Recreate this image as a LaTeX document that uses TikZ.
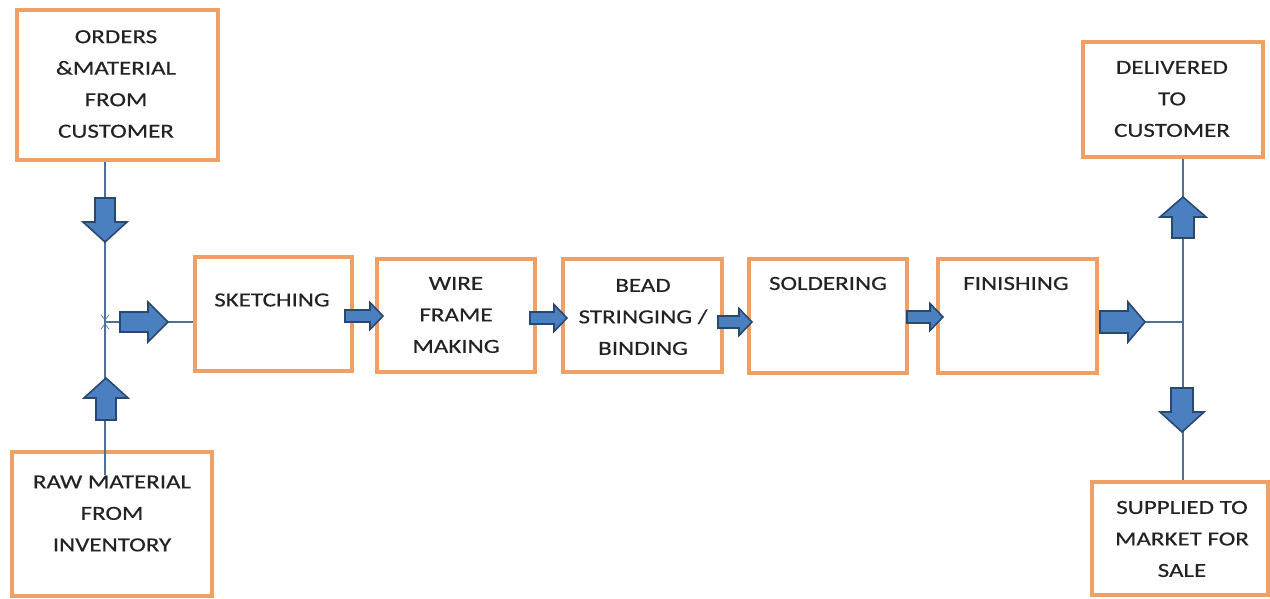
\documentclass[tikz,border=0pt]{standalone}
\usepackage{fontspec}
\newfontfamily\dfont[FakeStretch=1.25,FakeBold=0.4]{Carlito}
\usetikzlibrary{calc}
\definecolor{boxorange}{RGB}{240,160,100}
\definecolor{arrfill}{RGB}{75,128,192}
\definecolor{arrline}{RGB}{40,72,112}
\definecolor{linecol}{RGB}{80,110,150}
\definecolor{txt}{RGB}{35,35,35}
\tikzset{
 box/.style={draw=boxorange, line width=3.5pt, rectangle, inner sep=0pt},
 lbl/.style={font=\dfont\fontsize{20}{31.5}\selectfont, text=txt, align=center, inner sep=0pt},
 conn/.style={draw=linecol, line width=1.2pt},
 blk/.style={fill=arrfill, draw=arrline, line width=1.6pt, line join=miter},
 tick/.style={draw=linecol, line width=0.6pt},
}
% horizontal block arrow: x tail, x tip, y, shaft half, head half, head length
\newcommand\blkH[6]{%
 \pgfmathsetmacro\myhb{#2-((#2>#1)?1:-1)*#6}%
 \path[blk] (#1,{#3-#4}) -- (\myhb,{#3-#4}) -- (\myhb,{#3-#5}) -- (#2,#3) -- (\myhb,{#3+#5}) -- (\myhb,{#3+#4}) -- (#1,{#3+#4}) -- cycle;}
% vertical block arrow: y tail, y tip, x, shaft half, head half, head length
\newcommand\blkV[6]{%
 \pgfmathsetmacro\myhb{#2-((#2>#1)?1:-1)*#6}%
 \path[blk] ({#3-#4},#1) -- ({#3-#4},\myhb) -- ({#3-#5},\myhb) -- (#3,#2) -- ({#3+#5},\myhb) -- ({#3+#4},\myhb) -- ({#3+#4},#1) -- cycle;}
\begin{document}
\begin{tikzpicture}[x=1pt,y=-1pt]
\useasboundingbox (0,0) rectangle (1270,598);
% boxes
\node[box, minimum width=201pt, minimum height=150pt] (orders) at (117.5,85) {};
\node[box, minimum width=200pt, minimum height=144pt] (raw) at (112,524) {};
\node[box, minimum width=157pt, minimum height=114pt] (sketch) at (273.5,314) {};
\node[box, minimum width=158pt, minimum height=113pt] (wire) at (456,315.5) {};
\node[box, minimum width=159pt, minimum height=113pt] (bead) at (642.5,315.5) {};
\node[box, minimum width=158pt, minimum height=114pt] (solder) at (828,316) {};
\node[box, minimum width=159pt, minimum height=114pt] (finish) at (1017.5,316) {};
\node[box, minimum width=180pt, minimum height=115pt] (deliv) at (1173,99.5) {};
\node[box, minimum width=176pt, minimum height=113pt] (supp) at (1180,538.5) {};
% labels
\node[lbl] (ordersT) at (116,84) {ORDERS\\\&MATERIAL\\FROM\\CUSTOMER};
\node[lbl] (rawT) at (112,513.5) {RAW MATERIAL\\FROM\\INVENTORY};
\node[lbl] (sketchT) at (272,300) {SKETCHING};
\node[lbl] (wireT) at (456,315) {WIRE\\FRAME\\MAKING};
\node[lbl] (beadT) at (643,317) {BEAD\\STRINGING /\\BINDING};
\node[lbl] (solderT) at (828,283.5) {SOLDERING};
\node[lbl] (finishT) at (1016,283.5) {FINISHING};
\node[lbl] (delivT) at (1172,99) {DELIVERED\\TO\\CUSTOMER};
\node[lbl] (suppT) at (1182,539) {SUPPLIED TO\\MARKET FOR\\SALE};
% junctions
\coordinate (jL) at (105,322);
\coordinate (jR) at (1183,322);
\coordinate (rawEnd) at (105,475);
% thin connectors
\draw[conn] (orders.south -| jL) -- (jL) -- (rawEnd);
\draw[conn] (jL) -- (sketch.west |- jL);
\draw[conn] (deliv.south -| jR) -- (jR) -- (supp.north -| jR);
\draw[conn] (1145,322) -- (jR);
\draw[tick] (101,315) -- (105,320) -- (109,315);
\draw[tick] (101,329) -- (105,324) -- (109,329);
% block arrows
\blkV{198}{242}{105}{10}{22}{20}
\blkV{420}{378}{106}{10}{22}{20}
\blkH{120}{168}{322}{10}{20}{20}
\blkH{345}{383}{316}{6}{13.5}{13}
\blkH{530}{567}{318}{6}{13.5}{13}
\blkH{718}{752}{322}{6}{13.5}{13}
\blkH{907}{943}{317}{6}{13.5}{13}
\blkH{1100}{1145}{322}{11}{20}{17}
\blkV{238}{197}{1183}{11}{23}{20}
\blkV{388}{432}{1182}{11}{22}{20}
\end{tikzpicture}
\end{document}
